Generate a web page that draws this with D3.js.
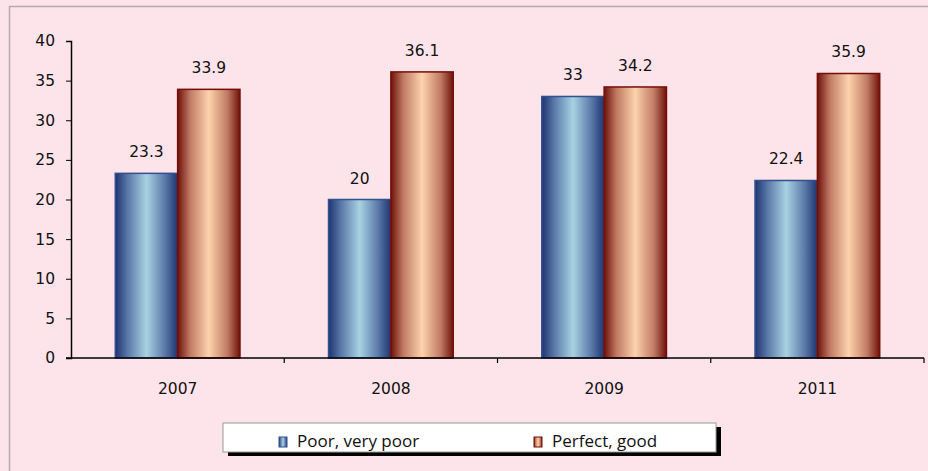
<!DOCTYPE html>
<html>
<head>
<meta charset="utf-8">
<style>
  body { margin: 0; background: #fde4ea; }
  svg { display: block; }
  .tick text { font-family: "DejaVu Sans", Verdana, sans-serif; font-size: 15.5px; fill: #111; }
</style>
</head>
<body>
<svg width="928" height="471"></svg>
<script src="https://d3js.org/d3.v7.min.js"></script>
<script>
var years = ["2007", "2008", "2009", "2011"];
var series = ["Poor, very poor", "Perfect, good"];
var poor = [23.3, 20, 33, 22.4];
var good = [33.9, 36.1, 34.2, 35.9];
var yTicks = [0, 5, 10, 15, 20, 25, 30, 35, 40];

var svg = d3.select("svg");
var width = 928, height = 471;

// outer frame
svg.append("rect").attr("width", width).attr("height", height).attr("fill", "#fde4ea");
svg.append("rect").attr("x", 9.5).attr("y", 6.5).attr("width", 940).attr("height", 480)
    .attr("fill", "none").attr("stroke", "#b3adaf").attr("stroke-width", 1.5);

var mLeft = 71, mRight = 924, mTop = 41, mBottom = 358;

var x = d3.scaleBand().domain(years).range([mLeft, mRight]).paddingInner(0).paddingOuter(0);
var x1 = d3.scaleBand().domain([0, 1]).range([0, x.bandwidth()]).paddingOuter(0.71).paddingInner(0);
var y = d3.scaleLinear().domain([0, 40]).range([mBottom, mTop]);

var defs = svg.append("defs");
function grad(id, stops) {
    var g = defs.append("linearGradient").attr("id", id)
        .attr("x1", "0%").attr("x2", "100%").attr("y1", "0%").attr("y2", "0%");
    stops.forEach(function (s) {
        g.append("stop").attr("offset", s[0]).attr("stop-color", s[1]);
    });
}
grad("gBlue", [["0%", "#1e3570"], ["20%", "#5a78a8"], ["50%", "#a8d2e2"], ["80%", "#5a78a8"], ["100%", "#1e3570"]]);
grad("gRed", [["0%", "#6e120a"], ["20%", "#c07a64"], ["50%", "#fdd3ac"], ["80%", "#c07a64"], ["100%", "#6e120a"]]);
var fills = ["url(#gBlue)", "url(#gRed)"];
var strokes = ["#33508f", "#760e08"];

var data = [];
years.forEach(function (yr, i) {
    data.push({year: yr, s: 0, v: poor[i]});
    data.push({year: yr, s: 1, v: good[i]});
});

var bars = svg.append("g");
bars.selectAll("rect").data(data).enter().append("rect")
    .attr("x", function (d) { return x(d.year) + x1(d.s); })
    .attr("y", function (d) { return y(d.v); })
    .attr("width", x1.bandwidth())
    .attr("height", function (d) { return mBottom - y(d.v); })
    .attr("fill", function (d) { return fills[d.s]; })
    .attr("stroke", function (d) { return strokes[d.s]; })
    .attr("stroke-width", 1.5);

svg.append("g").selectAll("text").data(data).enter().append("text")
    .attr("x", function (d) { return x(d.year) + x1(d.s) + x1.bandwidth() / 2; })
    .attr("y", function (d) { return y(d.v) - 16; })
    .attr("text-anchor", "middle")
    .attr("font-family", "DejaVu Sans, Verdana, sans-serif")
    .attr("font-size", 15.5)
    .attr("fill", "#111")
    .text(function (d) { return d.v; });

// axes
var yAxis = svg.append("g").attr("transform", "translate(" + mLeft + ",0)")
    .call(d3.axisLeft(y).tickValues(yTicks).tickSize(5).tickPadding(11));
yAxis.select(".domain").attr("stroke", "#000").attr("stroke-width", 1.5);

var xAxis = svg.append("g").attr("transform", "translate(0," + mBottom + ")")
    .call(d3.axisBottom(x).tickSize(0).tickPadding(25));
xAxis.select(".domain").remove();
svg.append("line").attr("x1", mLeft - 5).attr("x2", mRight).attr("y1", mBottom).attr("y2", mBottom)
    .attr("stroke", "#000").attr("stroke-width", 1.5);
svg.append("g").selectAll("line").data(years).enter().append("line")
    .attr("x1", function (d) { return x(d) + x.bandwidth(); })
    .attr("x2", function (d) { return x(d) + x.bandwidth(); })
    .attr("y1", mBottom).attr("y2", mBottom + 5)
    .attr("stroke", "#000").attr("stroke-width", 1.2);

// legend
var lg = svg.append("g").attr("transform", "translate(223,423)");
lg.append("rect").attr("x", 5).attr("y", 4).attr("width", 493).attr("height", 29).attr("fill", "#000");
lg.append("rect").attr("x", 0).attr("y", 0).attr("width", 493).attr("height", 29)
    .attr("fill", "#fff").attr("stroke", "#9a9a9a").attr("stroke-width", 1);
var lx = [56, 311];
series.forEach(function (s, i) {
    lg.append("rect").attr("x", lx[i]).attr("y", 14).attr("width", 8).attr("height", 10)
        .attr("fill", fills[i]).attr("stroke", strokes[i]).attr("stroke-width", 1);
    lg.append("text").attr("x", lx[i] + 18).attr("y", 24)
        .attr("font-family", "Open Sans, Liberation Sans, sans-serif").attr("font-size", 17)
        .attr("fill", "#111").text(s);
});
</script>
</body>
</html>
